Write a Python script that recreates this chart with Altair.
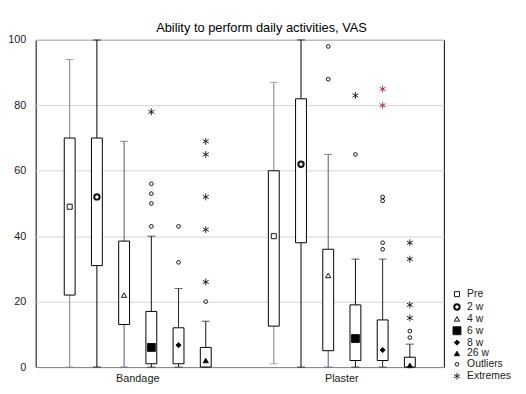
import altair as alt
import pandas as pd

groups = ["Bandage", "Plaster"]
periods = ["Pre", "2 w", "4 w", "6 w", "8 w", "26 w"]
kinds = periods + ["Outliers", "Extremes"]

# box statistics per group, in period order: whisker low, q1, median, q3, whisker high
band_lo = [0, 0, 0, 0, 0, 0]
band_q1 = [22, 31, 13, 1, 1, 0]
band_med = [49, 52, 22, 6, 6.7, 2]
band_q3 = [70, 70, 38.5, 17, 12, 6]
band_hi = [94, 100, 69, 40, 24, 14]

plas_lo = [1, 0, 0, 0, 0, 0]
plas_q1 = [12.5, 38, 5, 2, 2, 0]
plas_med = [40, 62, 28, 8.7, 5.2, 0.5]
plas_q3 = [60, 82, 36, 19, 14.4, 3]
plas_hi = [87, 100, 65, 33, 33, 7]

# outliers and extremes: (group, period, value)
out_group = ["Bandage"] * 7 + ["Plaster"] * 9
out_period = ["6 w", "6 w", "6 w", "6 w", "8 w", "8 w", "26 w",
              "4 w", "4 w", "6 w", "8 w", "8 w", "8 w", "8 w", "26 w", "26 w"]
out_value = [56, 53, 50, 43, 43, 32, 20,
             98, 88, 65, 52, 50.8, 38, 36, 11, 9]

ext_group = ["Bandage"] * 6 + ["Plaster"] * 7
ext_period = ["6 w", "26 w", "26 w", "26 w", "26 w", "26 w",
              "6 w", "8 w", "8 w", "26 w", "26 w", "26 w", "26 w"]
ext_value = [78, 69, 65, 52, 42, 26,
             83, 85, 80, 38, 33, 19, 15]

box_rows = []
for g, lo, q1, md, q3, hi in [("Bandage", band_lo, band_q1, band_med, band_q3, band_hi),
                              ("Plaster", plas_lo, plas_q1, plas_med, plas_q3, plas_hi)]:
    for i, p in enumerate(periods):
        box_rows.append(dict(group=g, period=p, lo=lo[i], q1=q1[i], med=md[i], q3=q3[i], hi=hi[i]))
boxes = pd.DataFrame(box_rows)

pt_rows = []
for r in box_rows:
    pt_rows.append(dict(group=r["group"], period=r["period"], value=r["med"], kind=r["period"]))
for g, p, v in zip(out_group, out_period, out_value):
    pt_rows.append(dict(group=g, period=p, value=v, kind="Outliers"))
for g, p, v in zip(ext_group, ext_period, ext_value):
    pt_rows.append(dict(group=g, period=p, value=v, kind="Extremes"))
points = pd.DataFrame(pt_rows)

FONT = "Liberation Sans"
asterisk = "M0,-1L0,1M-0.87,-0.5L0.87,0.5M-0.87,0.5L0.87,-0.5"
whisk_colors = ["#808080", "#000000", "#55557a", "#111111", "#222222", "#111111"]

x_enc = alt.X("group:N", sort=groups,
              scale=alt.Scale(domain=groups, paddingInner=0, paddingOuter=0),
              axis=alt.Axis(title=None, labelAngle=0, ticks=False, domainColor="#888888",
                            labelFontSize=11, labelPadding=6, labelColor="#222222",
                            labelFont=FONT, grid=False))
xo_enc = alt.XOffset("period:N", sort=periods,
                     scale=alt.Scale(domain=periods, paddingInner=0, paddingOuter=0.75))
y_scale = alt.Scale(domain=[0, 100], nice=False, zero=True)
y_axis = alt.Axis(title=None, values=[0, 20, 40, 60, 80, 100], ticks=False, domain=False,
                  labelFontSize=11, labelPadding=10, labelColor="#222222", labelFont=FONT,
                  grid=True, gridColor="#d4d4d4")

whisk_color = alt.Color("period:N", scale=alt.Scale(domain=periods, range=whisk_colors), legend=None)

whiskers = alt.Chart(boxes).mark_rule(strokeWidth=1).encode(
    x=x_enc, xOffset=xo_enc,
    y=alt.Y("lo:Q", scale=y_scale, axis=y_axis), y2="hi:Q",
    color=whisk_color)

caps_hi = alt.Chart(boxes).mark_tick(size=8, thickness=1).encode(
    x=x_enc, xOffset=xo_enc, y=alt.Y("hi:Q", scale=y_scale), color=whisk_color)
caps_lo = alt.Chart(boxes).mark_tick(size=8, thickness=1).encode(
    x=x_enc, xOffset=xo_enc, y=alt.Y("lo:Q", scale=y_scale), color=whisk_color)

bars = alt.Chart(boxes).mark_bar(width=11, fill="white", stroke="black", strokeWidth=1).encode(
    x=x_enc, xOffset=xo_enc,
    y=alt.Y("q1:Q", scale=y_scale), y2="q3:Q")

leg = alt.Legend(title=None)
red_test = "datum.group == 'Plaster' && datum.period == '8 w' && datum.kind == 'Extremes'"
pts = alt.Chart(points).transform_filter("!(" + red_test + ")").mark_point(
    opacity=1, fillOpacity=1).encode(
    x=x_enc, xOffset=xo_enc,
    y=alt.Y("value:Q", scale=y_scale),
    shape=alt.Shape("kind:N", sort=kinds, scale=alt.Scale(
        domain=kinds,
        range=["square", "circle", "triangle-up", "square", "diamond", "triangle-up", "circle", asterisk]),
        legend=leg),
    fill=alt.Fill("kind:N", sort=kinds, scale=alt.Scale(
        domain=kinds,
        range=["white", "white", "white", "black", "black", "black", "white", "black"]),
        legend=leg),
    size=alt.Size("kind:N", sort=kinds,
                  scale=alt.Scale(type="ordinal", domain=kinds, range=[26, 30, 28, 64, 28, 28, 14, 48]),
                  legend=leg),
    strokeWidth=alt.StrokeWidth("kind:N", sort=kinds,
                                scale=alt.Scale(type="ordinal", domain=kinds,
                                                range=[1, 2, 1, 1, 1, 1, 1, 0.9]),
                                legend=leg),
    stroke=alt.Stroke("kind:N", sort=kinds,
                      scale=alt.Scale(domain=kinds, range=["#111111"] * 8), legend=leg))

red_pts = alt.Chart(points).transform_filter(red_test).mark_point(
    shape=asterisk, size=48, strokeWidth=0.9, stroke="#a02828", fill="#a02828",
    opacity=1).encode(
    x=x_enc, xOffset=xo_enc,
    y=alt.Y("value:Q", scale=y_scale))

chart = alt.layer(whiskers, caps_hi, caps_lo, bars, pts, red_pts).properties(
    width=413, height=331,
    title=alt.TitleParams("Ability to perform daily activities, VAS", fontSize=13, font=FONT,
                          fontWeight="normal", color="#000000", anchor="middle", dx=22, dy=5,
                          offset=4),
    autosize=alt.AutoSizeParams(type="none"),
    padding={"left": 28, "top": 30, "right": 75, "bottom": 25},
).configure_view(stroke="black", strokeWidth=1).configure_legend(
    orient="none", legendX=421, legendY=252, labelFont=FONT, labelFontSize=10.5,
    labelColor="#222222", rowPadding=0,
    padding=0, labelOffset=5)

chart.save("out.html", embed_options={"renderer": "svg", "actions": False})
